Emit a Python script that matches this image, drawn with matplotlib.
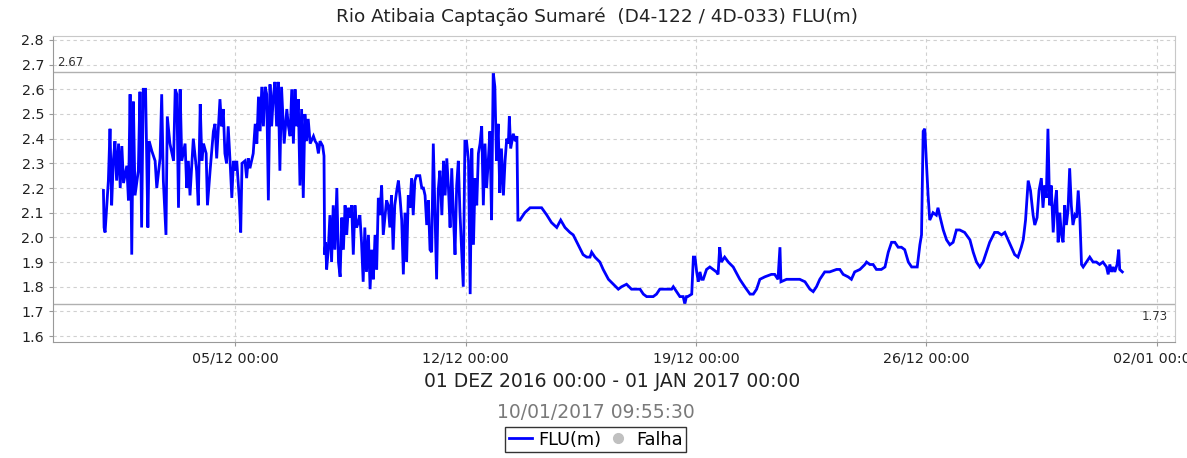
"""
Rio Atibaia Captação Sumaré (D4-122 / 4D-033) — FLU(m) level, Dec 2016.
"""

import pandas as pd
import matplotlib
matplotlib.use("Agg")
import matplotlib.pyplot as plt
import matplotlib.dates as mdates
from matplotlib.lines import Line2D

# days since 01/12/2016 00:00 and level (m)
noisy1_days = [0.00, 0.02, 0.05, 0.15, 0.20, 0.25, 0.30, 0.35, 0.40, 0.46, 0.51, 0.56, 0.61, 0.71, 0.76,
               0.81, 0.86, 0.91, 0.96, 1.06, 1.11, 1.16, 1.21, 1.28, 1.35, 1.39, 1.47, 1.57, 1.62, 1.72,
               1.77, 1.82, 1.90, 1.94, 2.02, 2.13, 2.18, 2.23, 2.28, 2.33, 2.38, 2.48, 2.53, 2.58, 2.63,
               2.73, 2.83, 2.88, 2.94, 2.99, 3.04, 3.12, 3.16, 3.24, 3.34, 3.39, 3.44, 3.54, 3.59, 3.64,
               3.69, 3.74, 3.79, 3.85, 3.90, 3.95, 4.00, 4.05, 4.13, 4.17, 4.21, 4.30, 4.35, 4.40, 4.45,
               4.55, 4.61, 4.66, 4.71, 4.76, 4.81, 4.86, 4.91, 4.96, 5.01, 5.06, 5.11, 5.16, 5.21, 5.26,
               5.31, 5.36, 5.41, 5.49, 5.57, 5.62, 5.67, 5.72, 5.77, 5.82, 5.87, 5.92, 5.97, 6.02, 6.07,
               6.12, 6.17, 6.22, 6.28, 6.38, 6.43, 6.48, 6.53, 6.58, 6.66, 6.70]
noisy1_vals = [2.19, 2.04, 2.02, 2.23, 2.44, 2.13, 2.31, 2.39, 2.23, 2.38, 2.20, 2.37, 2.22, 2.29, 2.15,
               2.58, 1.93, 2.55, 2.17, 2.27, 2.59, 2.04, 2.60, 2.60, 2.04, 2.39, 2.35, 2.31, 2.20, 2.32,
               2.58, 2.23, 2.01, 2.49, 2.38, 2.31, 2.60, 2.58, 2.12, 2.60, 2.31, 2.38, 2.20, 2.31, 2.17,
               2.40, 2.27, 2.13, 2.54, 2.31, 2.38, 2.34, 2.13, 2.27, 2.43, 2.46, 2.32, 2.56, 2.45, 2.52,
               2.34, 2.30, 2.45, 2.30, 2.16, 2.31, 2.27, 2.31, 2.15, 2.02, 2.30, 2.31, 2.24, 2.32, 2.28,
               2.34, 2.46, 2.38, 2.57, 2.43, 2.61, 2.45, 2.61, 2.58, 2.15, 2.62, 2.45, 2.57, 2.63, 2.45,
               2.63, 2.27, 2.61, 2.38, 2.52, 2.45, 2.41, 2.60, 2.38, 2.60, 2.45, 2.56, 2.21, 2.52, 2.16,
               2.50, 2.39, 2.48, 2.38, 2.41, 2.39, 2.38, 2.34, 2.39, 2.37, 2.33]

noisy2_days = [6.72, 6.75, 6.78, 6.83, 6.88, 6.93, 6.98, 7.03, 7.09, 7.14, 7.19, 7.24, 7.29, 7.34, 7.39,
               7.44, 7.49, 7.54, 7.59, 7.64, 7.69, 7.74, 7.79, 7.84, 7.89, 7.94, 7.99, 8.05, 8.10, 8.15,
               8.20, 8.25, 8.30, 8.35, 8.40, 8.45, 8.50, 8.55, 8.60, 8.65, 8.70, 8.75, 8.80, 8.85, 8.91,
               8.96, 9.01, 9.06, 9.11, 9.16, 9.21, 9.26, 9.31, 9.36, 9.41, 9.46, 9.51, 9.56, 9.61, 9.67,
               9.72, 9.77, 9.82, 9.87, 9.92, 9.97, 10.02, 10.07, 10.12, 10.17, 10.22, 10.28, 10.33, 10.38,
               10.43, 10.48, 10.53, 10.58, 10.63, 10.68, 10.73, 10.78, 10.83, 10.88, 10.93, 10.98, 11.03,
               11.09, 11.14, 11.19, 11.24, 11.29, 11.34, 11.39, 11.44, 11.49, 11.54, 11.59, 11.64, 11.69,
               11.74, 11.79, 11.84, 11.89, 11.94, 11.99, 12.04, 12.09, 12.15, 12.20, 12.25, 12.30, 12.33,
               12.37, 12.45, 12.51, 12.56, 12.59]
noisy2_vals = [1.93, 1.98, 1.87, 1.95, 2.09, 1.90, 2.13, 1.95, 2.20, 1.90, 1.84, 2.08, 1.95, 2.13, 2.01,
               2.12, 2.08, 2.13, 1.93, 2.13, 2.04, 2.06, 2.09, 1.98, 1.82, 2.04, 1.86, 2.01, 1.79, 1.95,
               1.83, 2.01, 1.87, 2.16, 2.09, 2.21, 2.01, 2.08, 2.15, 2.13, 2.04, 2.17, 1.95, 2.13, 2.19,
               2.23, 2.16, 2.07, 1.85, 2.10, 1.90, 2.17, 2.12, 2.24, 2.09, 2.23, 2.25, 2.25, 2.25, 2.20,
               2.20, 2.17, 2.05, 2.15, 1.95, 1.94, 2.38, 2.10, 1.83, 2.19, 2.27, 2.09, 2.31, 2.17,
               2.32, 2.20, 2.04, 2.28, 2.09, 1.93, 2.21, 2.31, 2.10, 1.95, 1.80, 2.39, 2.39,
               2.31, 1.77, 2.36, 1.97, 2.24, 2.13, 2.34, 2.38, 2.45, 2.13, 2.38, 2.20, 2.31,
               2.43, 2.07, 2.67, 2.61, 2.31, 2.46, 2.18, 2.36, 2.17, 2.31, 2.40, 2.38, 2.49,
               2.36, 2.42, 2.39, 2.41, 2.07]

smooth1_days = [12.65, 12.80, 12.96, 13.31, 13.47, 13.61, 13.77, 13.89, 14.02, 14.17, 14.27, 14.42, 14.57,
                14.68, 14.78, 14.83, 14.93, 15.08, 15.18, 15.34, 15.49, 15.64, 15.74, 15.89, 16.04, 16.19,
                16.30, 16.40, 16.50, 16.70, 16.80, 16.90, 17.11, 17.26, 17.31, 17.41, 17.51, 17.61, 17.66,
                17.71, 17.75, 17.87, 17.92, 17.97, 18.02, 18.07, 18.12, 18.17, 18.22, 18.27, 18.32, 18.42,
                18.52, 18.62, 18.67, 18.72, 18.77, 18.87, 18.98, 19.13, 19.33, 19.48, 19.64, 19.74, 19.84,
                19.94, 20.09, 20.29, 20.39, 20.49, 20.55, 20.58, 20.75, 20.95, 21.10]
smooth1_vals = [2.07, 2.10, 2.12, 2.12, 2.09, 2.06, 2.04, 2.07, 2.04, 2.02, 2.01, 1.97, 1.93,
                1.92, 1.92, 1.94, 1.92, 1.90, 1.87, 1.83, 1.81, 1.79, 1.80, 1.81, 1.79, 1.79,
                1.79, 1.77, 1.76, 1.76, 1.77, 1.79, 1.79, 1.79, 1.80, 1.78, 1.76, 1.76, 1.73,
                1.76, 1.76, 1.77, 1.92, 1.92, 1.86, 1.82, 1.86, 1.83, 1.83, 1.85, 1.87, 1.88,
                1.87, 1.86, 1.85, 1.96, 1.90, 1.92, 1.90, 1.88, 1.83, 1.80, 1.77, 1.77, 1.79,
                1.83, 1.84, 1.85, 1.85, 1.83, 1.96, 1.82, 1.83, 1.83, 1.83]

smooth2_days = [21.15, 21.31, 21.46, 21.56, 21.66, 21.76, 21.91, 22.06, 22.27, 22.37, 22.47, 22.62, 22.72,
                22.82, 22.98, 23.13, 23.18, 23.28, 23.38, 23.48, 23.63, 23.74, 23.84, 23.94, 24.04, 24.14,
                24.24, 24.34, 24.45, 24.55, 24.65, 24.72, 24.80, 24.85, 24.90, 24.95, 25.00, 25.05, 25.10,
                25.20, 25.30, 25.35, 25.40, 25.51, 25.61, 25.71, 25.81, 25.91, 26.01, 26.16, 26.32, 26.42,
                26.52, 26.62, 26.72, 26.82, 26.92, 27.07, 27.17, 27.28, 27.38, 27.48, 27.58, 27.68, 27.78,
                27.88, 27.94, 28.01]
smooth2_vals = [1.83, 1.82, 1.79, 1.78, 1.80, 1.83, 1.86, 1.86, 1.87, 1.87, 1.85, 1.84, 1.83,
                1.86, 1.87, 1.89, 1.90, 1.89, 1.89, 1.87, 1.87, 1.88, 1.94, 1.98, 1.98, 1.96,
                1.96, 1.95, 1.90, 1.88, 1.88, 1.88, 1.97, 2.01, 2.43, 2.44, 2.30, 2.17, 2.07,
                2.10, 2.09, 2.12, 2.09, 2.03, 1.99, 1.97, 1.98, 2.03, 2.03, 2.02, 1.99, 1.94,
                1.90, 1.88, 1.90, 1.94, 1.98, 2.02, 2.02, 2.01, 2.02, 1.99, 1.96, 1.93, 1.92,
                1.96, 1.99, 2.07]

noisy3_days = [28.09, 28.16, 28.24, 28.29, 28.36, 28.42, 28.49, 28.54, 28.59, 28.64, 28.69, 28.74, 28.79,
               28.85, 28.90, 28.95, 29.00, 29.05, 29.10, 29.15, 29.20, 29.25, 29.30, 29.35, 29.40, 29.45,
               29.51, 29.56, 29.61, 29.66, 29.71, 29.76, 29.86, 29.96, 30.06, 30.16, 30.26, 30.36, 30.47,
               30.52, 30.57, 30.62, 30.67, 30.72, 30.79, 30.84, 30.87, 30.95]
noisy3_vals = [2.23, 2.19, 2.09, 2.05, 2.08, 2.19, 2.24, 2.12, 2.21, 2.16, 2.44, 2.13, 2.21,
               2.02, 2.13, 2.19, 1.98, 2.10, 2.01, 1.98, 2.13, 2.05, 2.11, 2.28, 2.13, 2.05,
               2.09, 2.08, 2.19, 2.08, 1.89, 1.88, 1.90, 1.92, 1.90, 1.90, 1.89, 1.90, 1.88,
               1.85, 1.89, 1.86, 1.88, 1.86, 1.89, 1.95, 1.87, 1.86]

limit_high = 2.67
limit_low = 1.73
tick_dates = ["2016-12-05", "2016-12-12", "2016-12-19", "2016-12-26", "2017-01-02"]

start = pd.Timestamp("2016-12-01 00:00")
days = noisy1_days + noisy2_days + smooth1_days + smooth2_days + noisy3_days
vals = noisy1_vals + noisy2_vals + smooth1_vals + smooth2_vals + noisy3_vals
times = start + pd.to_timedelta(days, unit="D")

fig = plt.figure(figsize=(11.87, 4.58), dpi=100)
ax = fig.add_axes([0.0447, 0.2533, 0.9452, 0.6681])

ax.plot(times, vals, color="#0000ff", linewidth=2.0, solid_joinstyle="miter")

# alarm limits
ax.axhline(limit_high, color="#b0b0b0", linewidth=1.0)
ax.axhline(limit_low, color="#b0b0b0", linewidth=1.0)

ax.set_xlim(start - pd.Timedelta(days=1.53), start + pd.Timedelta(days=32.55))
ax.set_ylim(1.576, 2.816)

ax.text(0.004, limit_high + 0.012, f"{limit_high:.2f}", transform=ax.get_yaxis_transform(),
        fontsize=8.5, color="#333333", ha="left", va="bottom")
ax.text(0.994, limit_low - 0.025, f"{limit_low:.2f}", transform=ax.get_yaxis_transform(),
        fontsize=8.5, color="#333333", ha="right", va="top")

ax.set_yticks([1.6 + 0.1 * i for i in range(13)])
ax.yaxis.set_major_formatter(plt.FuncFormatter(lambda v, _: f"{v:.1f}"))
ax.set_xticks(pd.to_datetime(tick_dates))
ax.xaxis.set_major_formatter(mdates.DateFormatter("%d/%m %H:%M"))
ax.tick_params(axis="both", labelsize=10.3, labelcolor="#222222", length=3, width=0.8,
               direction="out", color="#999999")

ax.grid(True, color="#d0d0d0", linestyle=(0, (3, 3)), linewidth=0.8)
ax.set_axisbelow(True)
for side in ["left", "bottom"]:
    ax.spines[side].set_color("#999999")
for side in ["top", "right"]:
    ax.spines[side].set_color("#c8c8c8")

fig.text(0.503, 0.963, "Rio Atibaia Captação Sumaré  (D4-122 / 4D-033) FLU(m)",
         ha="center", va="center", fontsize=13.3, color="#222222")
fig.text(0.516, 0.168, "01 DEZ 2016 00:00 - 01 JAN 2017 00:00",
         ha="center", va="center", fontsize=13.5, color="#222222")
fig.text(0.502, 0.100, "10/01/2017 09:55:30",
         ha="center", va="center", fontsize=13.5, color="#7a7a7a")

handles = [
    Line2D([], [], color="#0000ff", linewidth=2, label="FLU(m)"),
    Line2D([], [], color="#c0c0c0", marker="o", linestyle="none", markersize=7, label="Falha"),
]
leg = fig.legend(handles=handles, loc="center", bbox_to_anchor=(0.502, 0.04), ncol=2,
                 fontsize=12.8, frameon=True, fancybox=False, handlelength=1.3,
                 handletextpad=0.35, columnspacing=0.3, borderpad=0.2, borderaxespad=0)
leg.get_frame().set_edgecolor("black")
leg.get_frame().set_linewidth(1.0)

fig.savefig("out.png", dpi=100, facecolor="white")
